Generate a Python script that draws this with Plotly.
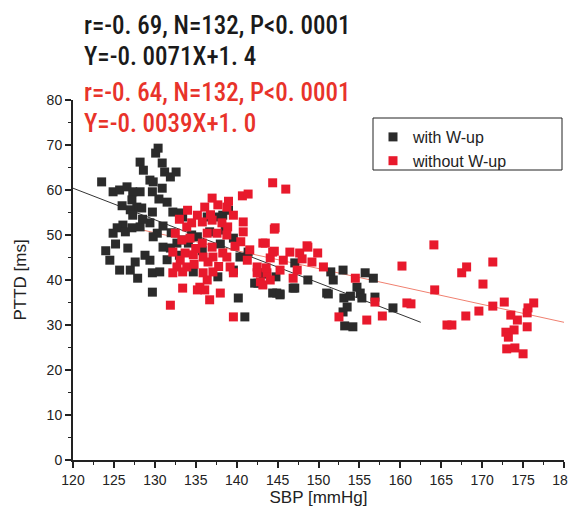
import plotly.graph_objects as go

# Werte
sbp_with = [130.4, 130.1, 128.2, 128.6, 130.9, 131.2, 131.9, 132.6, 129.4, 129.8,
            123.5, 124.9, 125.7, 126.6, 127.3, 128.2, 129.7, 130.9, 131.5, 127.2,
            127.8, 127.0, 128.4, 129.7, 127.3, 133.1, 133.4, 132.2, 126.1, 125.4,
            124.9, 126.4, 127.2, 128.2, 129.4, 130.3, 129.8, 126.7, 124.5, 125.7,
            127.0, 127.6, 127.9, 129.4, 129.7, 130.6, 129.7, 131.0, 131.9, 132.7,
            134.1, 134.7, 133.4, 135.2, 136.4, 136.7, 137.6, 138.3, 138.6, 139.6,
            140.4, 141.4, 139.6, 137.7, 140.2, 143.2, 144.9, 145.3, 142.6, 147.1,
            147.1, 148.7, 151.0, 141.0, 143.3, 144.8, 142.2, 144.4, 145.3, 146.9,
            151.5, 151.8, 153.0, 155.7, 156.7, 151.2, 153.1, 153.9, 154.7, 155.1,
            155.3, 153.5, 153.0, 153.2, 154.2, 156.9, 159.1,
            131.0, 132.0, 128.5, 126.0, 125.2, 124.0, 131.5, 133.0, 134.5, 135.8,
            138.0, 139.0, 130.5, 128.8]
pttd_with = [69.3, 68.2, 66.2, 64.4, 66.0, 64.0, 62.9, 64.0, 62.2, 61.8,
             61.8, 59.6, 60.0, 60.7, 59.6, 59.6, 59.6, 60.4, 57.3, 57.8,
             56.2, 55.6, 56.0, 55.1, 54.4, 54.9, 54.0, 55.1, 52.2, 51.6,
             50.4, 50.7, 51.6, 51.8, 52.7, 50.4, 49.6, 47.1, 44.4, 42.2,
             42.2, 44.0, 40.4, 44.4, 41.6, 41.8, 37.3, 47.3, 47.1, 48.2,
             48.2, 41.8, 48.9, 49.6, 54.0, 50.7, 54.0, 54.4, 51.1, 49.3,
             45.1, 46.2, 42.2, 40.7, 36.0, 41.6, 37.1, 36.7, 39.3, 43.8,
             38.2, 40.0, 37.1, 31.8, 41.3, 40.7, 39.3, 37.1, 36.9, 38.2,
             41.8, 40.0, 42.2, 41.6, 40.4, 36.9, 36.0, 36.4, 38.4, 37.1,
             36.0, 34.0, 32.9, 29.8, 29.6, 36.2, 33.8,
             52.0, 50.5, 53.5, 56.5, 48.0, 46.5, 44.5, 45.5, 50.0, 46.5,
             48.0, 55.5, 58.0, 45.5]

sbp_without = [144.4, 146.0, 140.7, 141.4, 137.0, 137.7, 136.1, 138.8, 139.6, 135.2,
               134.5, 133.9, 135.8, 137.0, 138.2, 138.9, 140.8, 144.7, 136.4, 137.6,
               138.8, 140.8, 132.5, 133.3, 134.3, 135.8, 137.0, 138.3, 141.6, 143.2,
               144.4, 146.5, 147.7, 148.7, 149.9, 150.6, 145.7, 144.1, 142.5, 143.7,
               145.3, 147.4, 132.2, 133.1, 133.7, 134.7, 132.7, 133.9, 135.9, 137.1,
               138.8, 132.2, 133.4, 135.9, 137.1, 139.2, 139.6, 136.4, 135.5, 136.1,
               135.2, 133.4, 138.0, 136.7, 131.9, 142.9, 143.2, 144.1, 142.5, 141.3,
               139.6, 144.6, 143.5, 144.6, 148.6, 148.0, 149.2, 143.6, 146.9, 154.5,
               152.5, 155.9, 156.9, 157.8, 160.2, 160.8, 161.3, 164.1, 164.2, 165.7,
               166.3, 167.5, 168.1, 168.0, 169.6, 170.1, 171.3, 171.3, 172.7, 173.5,
               174.3, 172.9, 173.2, 173.9, 175.5, 173.0, 174.0, 175.0, 175.5, 175.6,
               176.3,
               134.0, 136.8, 139.0, 135.0, 136.5, 137.8, 134.8, 139.8, 140.5, 133.0]
pttd_without = [61.6, 60.2, 58.7, 59.1, 58.2, 56.7, 56.2, 56.2, 54.4, 54.4,
                52.7, 51.8, 52.9, 53.3, 52.7, 51.8, 52.9, 51.6, 50.4, 50.4,
                50.0, 50.7, 50.4, 48.9, 49.3, 48.2, 47.3, 46.0, 46.7, 48.2,
                46.2, 46.2, 46.0, 47.3, 46.0, 42.9, 44.4, 44.9, 42.9, 41.6,
                42.2, 42.2, 46.2, 44.4, 46.0, 45.6, 42.9, 42.9, 45.1, 45.1,
                45.1, 41.6, 41.8, 41.6, 41.8, 42.9, 41.6, 40.0, 38.4, 37.8,
                37.8, 38.2, 37.1, 35.6, 34.4, 39.6, 38.9, 40.0, 41.6, 44.4,
                31.8, 51.3, 48.2, 46.4, 47.6, 44.7, 44.0, 42.7, 40.4, 40.4,
                31.8, 31.1, 35.1, 32.0, 43.1, 34.9, 34.7, 47.8, 37.8, 30.0,
                30.0, 41.6, 42.9, 32.0, 33.1, 39.1, 44.0, 34.2, 35.1, 32.2,
                31.1, 28.4, 27.3, 28.9, 29.6, 24.7, 24.9, 23.6, 32.7, 33.8,
                34.9,
                55.5, 54.5, 57.5, 47.0, 44.0, 43.0, 43.5, 47.5, 48.5, 53.5]

# Regressionsgeraden (Endpunkte aus dem Bild)
fit_with_x = [120, 162.5]
fit_with_y = [60.4, 30.6]
fit_without_x = [128, 180]
fit_without_y = [51.3, 30.6]

RED = '#e8192c'
BLACK = '#2b2b2b'

# Seite hat 8px Rand -> Figur 568x507, Plotbereich auf der Seite 73..564 x 100..460
def px(x):
    return (x - 73) / 491

def py(y):
    return (460 - y) / 360

fig = go.Figure()

fig.add_trace(go.Scatter(
    x=fit_with_x, y=fit_with_y, mode='lines',
    line=dict(color='#333333', width=1), showlegend=False, hoverinfo='skip'
))
fig.add_trace(go.Scatter(
    x=fit_without_x, y=fit_without_y, mode='lines',
    line=dict(color='#f08070', width=1), showlegend=False, hoverinfo='skip'
))

fig.add_trace(go.Scatter(
    x=sbp_with, y=pttd_with, mode='markers', name='with W-up',
    marker=dict(symbol='square', size=9, color=BLACK, line=dict(width=0))
))
fig.add_trace(go.Scatter(
    x=sbp_without, y=pttd_without, mode='markers', name='without W-up',
    marker=dict(symbol='square', size=9, color=RED, line=dict(width=0))
))

# Texte oben links
stat_font = 'Roboto Condensed, Liberation Sans, sans-serif'
lines = [
    ('r=-0. 69, N=132, P<0. 0001', '#1a1a1a', 25),
    ('Y=-0. 0071X+1. 4', '#1a1a1a', 56),
    ('r=-0. 64, N=132, P<0. 0001', '#e8332a', 92),
    ('Y=-0. 0039X+1. 0', '#e8332a', 123),
]
for txt, col, ypos in lines:
    fig.add_annotation(
        text=txt, xref='paper', yref='paper',
        x=px(82), y=py(ypos),
        xanchor='left', yanchor='middle', showarrow=False,
        font=dict(family=stat_font, size=25, color=col, weight=500)
    )

# Legendenrahmen
fig.add_shape(
    type='rect', xref='paper', yref='paper',
    x0=px(373), x1=px(562), y0=py(170), y1=py(118),
    line=dict(color='#222222', width=1), fillcolor='white', layer='below'
)

axis_font = dict(family='Liberation Sans, Arial, sans-serif', size=14, color='#222222')

fig.update_layout(
    width=568, height=507,
    margin=dict(l=65, r=12, t=92, b=55),
    paper_bgcolor='white', plot_bgcolor='white',
    font=axis_font,
    legend=dict(
        x=px(373), y=py(120), xanchor='left', yanchor='top',
        borderwidth=0, bgcolor='rgba(0,0,0,0)',
        font=dict(family='Liberation Sans, Arial, sans-serif', size=16, color='#222222'),
        itemwidth=30, tracegroupgap=0
    ),
    xaxis=dict(
        range=[120, 180], dtick=5, tick0=120, showgrid=False, zeroline=False,
        automargin=False,
        showline=True, linecolor='#222222', linewidth=2,
        ticks='outside', ticklen=6, tickwidth=2, tickcolor='#222222',
        minor=dict(dtick=2.5, ticks='outside', ticklen=3, tickwidth=1, tickcolor='#222222'),
        title=dict(text='SBP [mmHg]', font=dict(size=17), standoff=4)
    ),
    yaxis=dict(
        range=[0, 80], dtick=10, showgrid=False, zeroline=False,
        automargin=False,
        showline=True, linecolor='#222222', linewidth=2,
        ticks='outside', ticklen=6, tickwidth=2, tickcolor='#222222',
        minor=dict(dtick=5, ticks='outside', ticklen=3, tickwidth=1, tickcolor='#222222'),
        title=dict(text='PTTD [ms]', font=dict(size=17), standoff=16)
    ),
)

fig.write_html("out.html")
